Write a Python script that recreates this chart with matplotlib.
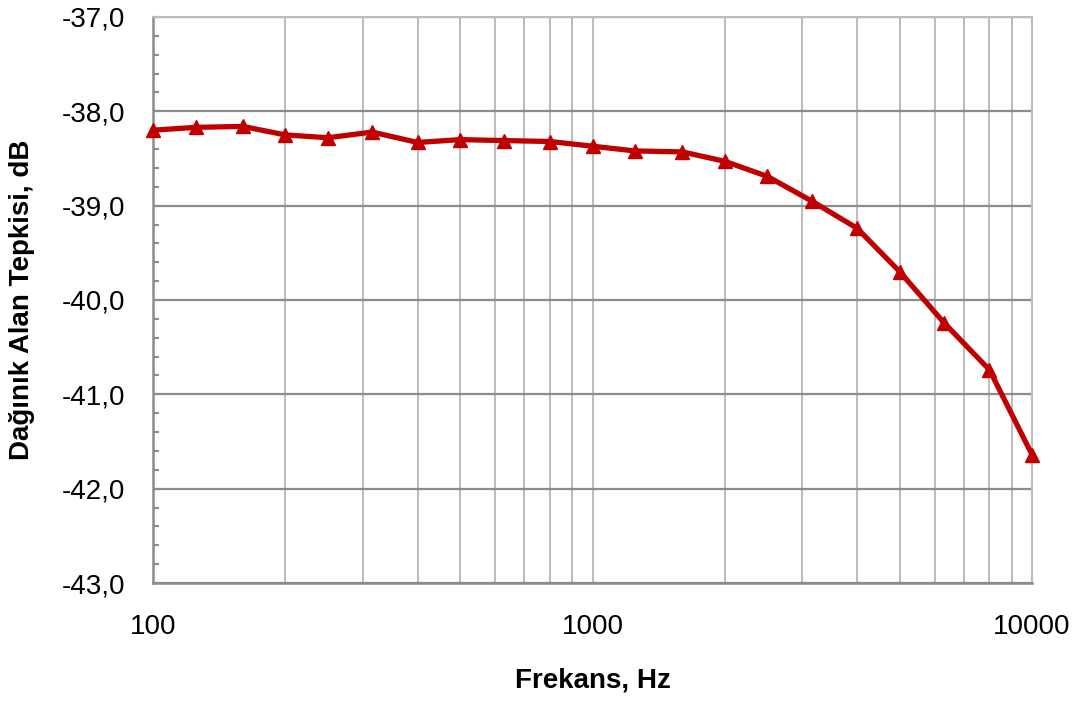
import matplotlib.pyplot as plt
from matplotlib.ticker import FixedLocator, MultipleLocator, FuncFormatter, LogLocator, NullFormatter

plt.rcParams['font.family'] = ['Liberation Sans', 'DejaVu Sans']

# 1/3 oktav frekanslari ve olculen tepki
frekans = [100, 125, 160, 200, 250, 315, 400, 500, 630, 800, 1000,
           1250, 1600, 2000, 2500, 3150, 4000, 5000, 6300, 8000, 10000]
tepki = [-38.20, -38.17, -38.16, -38.25, -38.28, -38.22, -38.33, -38.30,
         -38.31, -38.32, -38.37, -38.42, -38.43, -38.53, -38.69, -38.95,
         -39.24, -39.70, -40.24, -40.74, -41.64]

fig = plt.figure(figsize=(10.8, 7.02), dpi=100)
ax = fig.add_axes([0.1417, 0.1695, 0.8139, 0.8063])

ax.plot(frekans, tepki, color='#C00000', lw=3.8, marker='^', ms=10,
        clip_on=False, zorder=3)

ax.set_xscale('log')
ax.set_xlim(100, 10000)
ax.set_ylim(-43, -37)

ax.xaxis.set_major_locator(FixedLocator([100, 1000, 10000]))
ax.xaxis.set_major_formatter(FuncFormatter(lambda v, p: '%d' % v))
ax.xaxis.set_minor_locator(LogLocator(base=10, subs=range(2, 10)))
ax.xaxis.set_minor_formatter(NullFormatter())
ax.yaxis.set_major_locator(MultipleLocator(1))
ax.yaxis.set_minor_locator(MultipleLocator(0.2))
ax.yaxis.set_major_formatter(FuncFormatter(lambda v, p: ('%.1f' % v).replace('.', ',')))

ax.grid(True, which='major', axis='y', color='#8c8c8c', lw=1.6)
ax.grid(True, which='both', axis='x', color='#bdbdbd', lw=1.5)
ax.set_axisbelow(True)

ax.tick_params(axis='both', which='major', labelsize=20)
ax.tick_params(axis='x', which='both', length=0, pad=22)
ax.tick_params(axis='y', which='both', direction='in', length=4.5,
               color='#8c8c8c', width=1.5)
ax.tick_params(axis='y', which='major', pad=20)

for s in ['left', 'bottom']:
    ax.spines[s].set_color('#8c8c8c')
    ax.spines[s].set_linewidth(1.8)
for s in ['top', 'right']:
    ax.spines[s].set_color('#bdbdbd')
    ax.spines[s].set_linewidth(1.5)

ax.set_xlabel('Frekans, Hz', fontsize=20, fontweight='bold')
ax.set_ylabel('Dağınık Alan Tepkisi, dB', fontsize=20, fontweight='bold')
ax.xaxis.set_label_coords(0.5, -0.150)
ax.yaxis.set_label_coords(-0.134, 0.5)

plt.savefig('out.png', dpi=100)
